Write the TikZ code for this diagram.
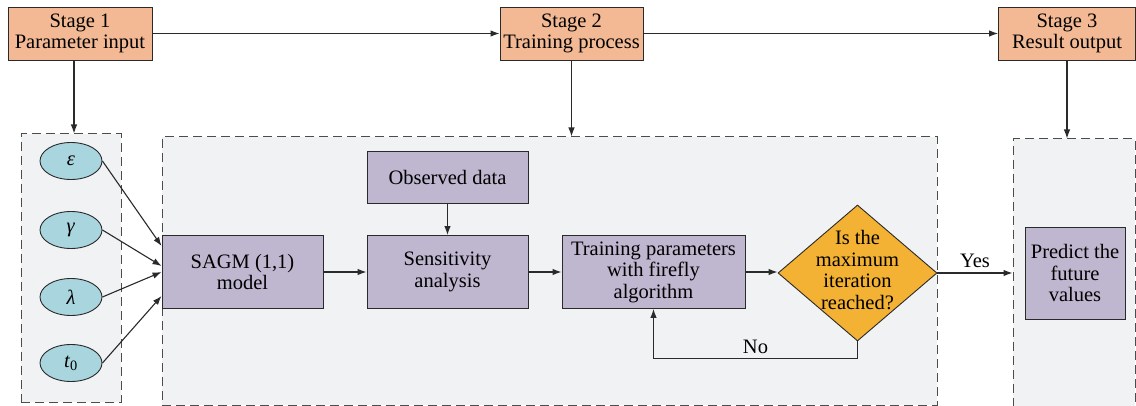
\documentclass[tikz,border=0pt]{standalone}
\usepackage{fontspec}
\setmainfont{Liberation Serif}[Ligatures=TeX]
\newfontfamily\diagramfont{Liberation Serif}
\usetikzlibrary{arrows.meta,shapes.geometric}

\definecolor{stagefill}{HTML}{F3B994}
\definecolor{procfill}{HTML}{BFB6CF}
\definecolor{paramfill}{HTML}{A9D5DF}
\definecolor{decfill}{HTML}{F4B234}
\definecolor{groupfill}{HTML}{F1F2F4}
\definecolor{edge}{HTML}{2A2A2A}

\tikzset{
  stagebox/.style={draw=edge, line width=0.9pt, fill=stagefill, align=center,
    inner sep=0pt, minimum height=53pt},
  procbox/.style={draw=edge, line width=0.9pt, fill=procfill, align=center,
    inner sep=0pt},
  groupbox/.style={draw=black!70, line width=1pt, dash pattern=on 9pt off 5pt,
    fill=groupfill, inner sep=0pt},
  param/.style={ellipse, draw=edge, line width=0.9pt, fill=paramfill,
    minimum width=62pt, minimum height=37pt, inner sep=0pt},
  decision/.style={diamond, draw=edge, line width=0.9pt, fill=decfill,
    inner sep=0pt, minimum width=159pt, minimum height=136pt},
  flow/.style={draw=edge, line width=1.1pt, -{Latex[length=9pt,width=6.5pt]}},
}

\begin{document}
\begin{tikzpicture}[x=1pt, y=-1pt, font=\diagramfont\fontsize{20.5}{21.5}\selectfont]
  \useasboundingbox (0,0) rectangle (1136,406);

  % dashed stage groups
  \node[groupbox, minimum width=100pt, minimum height=268pt] (g1) at (71,268) {};
  \node[groupbox, minimum width=775pt, minimum height=268pt] (g2) at (549.5,271) {};
  \node[groupbox, minimum width=122pt, minimum height=267pt] (g3) at (1074,272.5) {};

  % stage headers
  \node[stagebox, minimum width=144pt] (s1) at (80,33.5) {Stage 1\\Parameter input};
  \node[stagebox, minimum width=143pt] (s2) at (571.5,33.5) {Stage 2\\Training process};
  \node[stagebox, minimum width=137pt] (s3) at (1067,33.5) {Stage 3\\Result output};

  \draw[flow] (s1) -- (s2);
  \draw[flow] (s2) -- (s3);
  \draw[flow] ([xshift=-6pt]s1.south) -- ([xshift=3pt]g1.north);
  \draw[flow] (s2.south) -- (s2.south |- g2.north);
  \draw[flow] (s3.south) -- (s3.south |- g3.north);

  % parameters
  \node[param] (eps) at (71,161) {\textit{ε}};
  \node[param] (gam) at (71,230) {\textit{γ}};
  \node[param] (lam) at (71,297) {\textit{λ}};
  \node[param] (t0)  at (71,363) {\textit{t}\textsubscript{0}};

  % training process
  \node[procbox, minimum width=161pt, minimum height=73pt] (sagm) at (242.5,272) {SAGM (1,1)\\model};
  \node[procbox, minimum width=161pt, minimum height=52pt] (obs) at (447.5,177) {Observed data};
  \node[procbox, minimum width=161pt, minimum height=73pt] (sens) at (447.5,272) {Sensitivity\\analysis};
  \node[procbox, minimum width=183pt, minimum height=73pt] (train) at (653.5,272) {Training parameters\\with firefly\\algorithm};
  \node[decision, label={[align=center, yshift=3pt]center:Is the\\maximum\\iteration\\reached?}] (dec) at (857.5,273) {};

  % result
  \node[procbox, minimum width=100pt, minimum height=92pt] (pred) at (1075,273) {Predict the\\future\\values};

  % connectors
  \draw[flow] (eps.east) -- ([yshift=26pt]sagm.west);
  \draw[flow] (gam.east) -- ([yshift=6pt]sagm.west);
  \draw[flow] (lam.east) -- ([yshift=0pt]sagm.west);
  \draw[flow] (t0.east)  -- ([yshift=-24pt]sagm.west);

  \draw[flow] (sagm) -- (sens);
  \draw[flow] (obs) -- (sens);
  \draw[flow] (sens) -- (train);
  \draw[flow] (train.east) -- (train.east -| dec.west);
  \draw[flow] (dec.south) -- ++(0,17) -| node[pos=0.25, above=1pt] {No} (train.south);
  \draw[flow] (dec.east) -- node[above=1pt] {Yes} (dec.east -| g3.west);
\end{tikzpicture}
\end{document}
